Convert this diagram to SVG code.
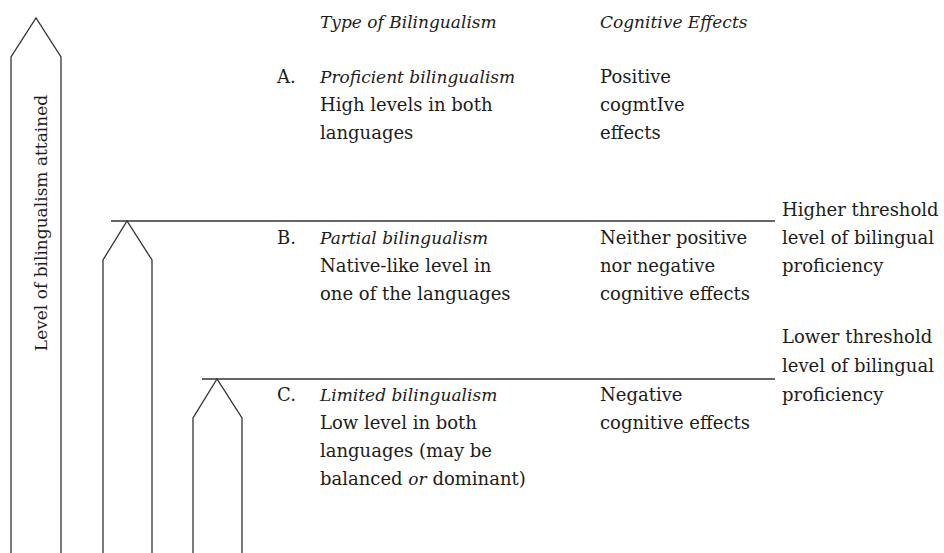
<svg xmlns="http://www.w3.org/2000/svg" width="944" height="553" viewBox="0 0 944 553">
<style>
  text { font-family: "DejaVu Serif", "Liberation Serif", serif; font-size: 18px; fill: #1c1c1c; }
  .it { font-style: italic; font-size: 17px; }
  .shape { fill: none; stroke: #333; stroke-width: 1.3; }
</style>
<rect width="944" height="553" fill="#fff"/>
<g id="arrow-main">
  <polyline class="shape" points="11,553 11,57 36,18 61,57 61,553"/>
  <text transform="translate(47,223) rotate(-90)" text-anchor="middle" style="font-size:17px">Level of bilingualism attained</text>
</g>
<g id="arrow-partial">
  <polyline class="shape" points="103,553 103,260 127,221 152,260 152,553"/>
</g>
<g id="arrow-limited">
  <polyline class="shape" points="193,553 193,418 217,379 242,418 242,553"/>
</g>
<g id="connectors">
  <line class="shape" x1="111" y1="221" x2="775" y2="221"/>
  <line class="shape" x1="202" y1="379" x2="775" y2="379"/>
</g>
<g id="headers">
  <text class="it" x="320" y="28">Type of Bilingualism</text>
  <text class="it" x="600" y="28">Cognitive Effects</text>
</g>
<g id="type-a">
  <text x="277" y="83">A.</text>
  <text class="it" x="320" y="83">Proficient bilingualism</text>
  <text x="320" y="111">High levels in both</text>
  <text x="320" y="139">languages</text>
  <text x="600" y="83">Positive</text>
  <text x="600" y="111">cogmtIve</text>
  <text x="600" y="139">effects</text>
</g>
<g id="type-b">
  <text x="277" y="244">B.</text>
  <text class="it" x="320" y="244">Partial bilingualism</text>
  <text x="320" y="272">Native-like level in</text>
  <text x="320" y="300">one of the languages</text>
  <text x="600" y="244">Neither positive</text>
  <text x="600" y="272">nor negative</text>
  <text x="600" y="300">cognitive effects</text>
</g>
<g id="higher-threshold">
  <text x="782" y="216">Higher threshold</text>
  <text x="782" y="244">level of bilingual</text>
  <text x="782" y="272">proficiency</text>
</g>
<g id="lower-threshold">
  <text x="782" y="343">Lower threshold</text>
  <text x="782" y="372">level of bilingual</text>
  <text x="782" y="401">proficiency</text>
</g>
<g id="type-c">
  <text x="277" y="401">C.</text>
  <text class="it" x="320" y="401">Limited bilingualism</text>
  <text x="320" y="429">Low level in both</text>
  <text x="320" y="457">languages (may be</text>
  <text x="320" y="485">balanced <tspan class="it">or</tspan> dominant)</text>
  <text x="600" y="401">Negative</text>
  <text x="600" y="429">cognitive effects</text>
</g>
</svg>
